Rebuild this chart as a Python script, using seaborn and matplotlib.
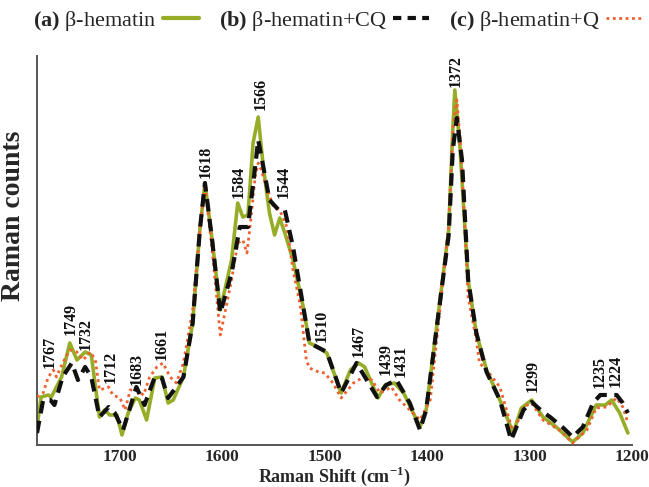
import matplotlib
matplotlib.use("Agg")
import matplotlib.pyplot as plt
from matplotlib.lines import Line2D
import seaborn as sns
import pandas as pd

# Raman spectra (arbitrary count units), wavenumbers in cm-1
shift_a = [1781, 1777, 1770, 1767, 1757, 1749, 1742, 1734, 1728, 1720, 1715, 1710, 1703,
           1698, 1692, 1685, 1681, 1674, 1666, 1659, 1653, 1648, 1638, 1629, 1622, 1617,
           1610, 1602, 1591, 1585, 1580, 1575, 1570, 1565, 1560, 1554, 1549, 1544, 1539,
           1531, 1521, 1515, 1507, 1498, 1484, 1475, 1467, 1461, 1448, 1441, 1432, 1423,
           1407, 1401, 1385, 1379, 1375, 1373, 1368, 1360, 1352, 1342, 1329, 1316, 1308,
           1298, 1287, 1274, 1258, 1248, 1235, 1226, 1220, 1212, 1204]
counts_a = [18, 48, 50, 48, 68, 102, 85, 93, 90, 28, 35, 30, 30,
            10, 32, 47, 45, 25, 67, 68, 42, 45, 68, 122, 215, 262,
            205, 135, 185, 242, 228, 230, 302, 328, 278, 232, 210, 227, 212,
            185, 138, 102, 98, 92, 52, 75, 82, 78, 47, 60, 62, 52,
            18, 35, 165, 215, 315, 355, 298, 165, 112, 75, 45, 12, 37,
            45, 28, 18, 3, 12, 40, 40, 45, 32, 12]

shift_b = [1781, 1775, 1768, 1764, 1756, 1747, 1741, 1734, 1728, 1720, 1711, 1705, 1697,
           1690, 1684, 1676, 1666, 1659, 1653, 1645, 1638, 1629, 1622, 1617, 1610, 1602,
           1591, 1583, 1575, 1568, 1565, 1560, 1554, 1545, 1539, 1531, 1521, 1515, 1498,
           1484, 1469, 1449, 1440, 1430, 1417, 1407, 1401, 1385, 1379, 1375, 1371, 1366,
           1360, 1352, 1342, 1329, 1318, 1306, 1298, 1287, 1280, 1267, 1258, 1248, 1238,
           1231, 1223, 1215, 1209, 1204]
counts_b = [12, 45, 45, 40, 68, 82, 65, 78, 68, 28, 38, 32, 15,
            38, 58, 40, 68, 67, 47, 58, 68, 122, 215, 262, 205, 132,
            172, 218, 218, 278, 305, 278, 245, 235, 235, 198, 138, 102, 93,
            52, 82, 48, 60, 65, 42, 15, 35, 163, 210, 295, 327, 285,
            165, 112, 73, 45, 5, 35, 43, 33, 28, 17, 8, 18, 42,
            50, 50, 50, 42, 32]

shift_c = [1781, 1775, 1770, 1765, 1762, 1756, 1749, 1742, 1736, 1729, 1724, 1720, 1711,
           1707, 1700, 1695, 1690, 1684, 1677, 1671, 1664, 1658, 1651, 1645, 1638, 1629,
           1622, 1617, 1610, 1602, 1591, 1585, 1580, 1576, 1573, 1568, 1565, 1562, 1557,
           1550, 1544, 1537, 1531, 1524, 1518, 1515, 1506, 1500, 1492, 1484, 1472, 1462,
           1454, 1446, 1435, 1427, 1414, 1407, 1397, 1385, 1379, 1375, 1371, 1367, 1360,
           1352, 1349, 1342, 1329, 1316, 1306, 1298, 1287, 1271, 1258, 1244, 1235, 1225,
           1215, 1209, 1204]
counts_c = [48, 52, 68, 75, 68, 82, 95, 93, 85, 93, 85, 55, 58,
            50, 47, 35, 55, 55, 50, 68, 78, 82, 68, 62, 82, 135,
            215, 260, 195, 110, 165, 202, 205, 192, 218, 268, 282, 275, 258,
            238, 235, 218, 175, 140, 85, 77, 73, 72, 62, 47, 62, 68,
            65, 52, 58, 45, 32, 25, 45, 160, 220, 315, 345, 295, 148,
            105, 82, 75, 58, 12, 38, 42, 25, 15, 2, 15, 37, 38,
            47, 38, 22]

series_names = ["β-hematin", "β-hematin+CQ", "β-hematin+Q"]
series_tags = ["(a)", "(b)", "(c)"]

# Band assignments marked on the spectra
band_labels = ["1767", "1749", "1732", "1712", "1683", "1661", "1618", "1584", "1566",
               "1544", "1510", "1467", "1439", "1431", "1372", "1299", "1235", "1224"]
band_heights = [77, 110, 95, 62, 60, 85, 267, 247, 335,
                247, 103, 88, 70, 68, 358, 53, 57, 58]
# horizontal nudges of the band labels, in cm-1
band_nudge = [-2, 1, -1, 3, -1, 2, 2, 0, 3, 4, 7, 0, -2, 5, 0, 2, 3, 8]

tick_values = [1700, 1600, 1500, 1400, 1300, 1200]

sns.set_style("white")
plt.rcParams["font.family"] = ["Liberation Serif", "DejaVu Serif"]
plt.rcParams["mathtext.fontset"] = "custom"
plt.rcParams["mathtext.rm"] = "Liberation Serif"
plt.rcParams["mathtext.bf"] = "Liberation Serif:bold"

fig = plt.figure(figsize=(6.49, 4.87), dpi=100)
ax = fig.add_axes([37 / 649, 42 / 487, 595 / 649, 389 / 487])

colors = ["#96ad28", "#111111", "#f0602e"]
frames = [
    pd.DataFrame({"shift": shift_a, "counts": counts_a}),
    pd.DataFrame({"shift": shift_b, "counts": counts_b}),
    pd.DataFrame({"shift": shift_c, "counts": counts_c}),
]

sns.lineplot(data=frames[0], x="shift", y="counts", sort=False, ax=ax,
             color=colors[0], lw=2.6, zorder=2)
sns.lineplot(data=frames[2], x="shift", y="counts", sort=False, ax=ax,
             color=colors[2], lw=2.0, zorder=3)
ax.lines[-1].set_dashes([1.0, 1.3])
sns.lineplot(data=frames[1], x="shift", y="counts", sort=False, ax=ax,
             color=colors[1], lw=3.0, zorder=4)
ax.lines[-1].set_dashes([3.0, 1.8])

ax.set_xlim(1781, 1200)
ax.set_ylim(0, 389)
ax.set_yticks([])
ax.set_xticks(tick_values)
ax.set_xticklabels([str(v) for v in tick_values], fontsize=12.5, fontweight="bold")
ax.tick_params(axis="x", direction="in", length=5, width=1, color="#444444", pad=3)
for side in ["top", "right"]:
    ax.spines[side].set_visible(False)
for side in ["left", "bottom"]:
    ax.spines[side].set_color("#555555")
    ax.spines[side].set_linewidth(1.4)

ax.set_xlabel(r"Raman Shift (cm$^{\mathbf{-1}}$)", fontsize=13, fontweight="bold", labelpad=0)
ax.set_ylabel("Raman counts", fontsize=20, fontweight="bold")
ax.yaxis.set_label_coords(-0.018, 0.59)

for lab, h, dx in zip(band_labels, band_heights, band_nudge):
    ax.text(float(lab) - dx, h, lab, rotation=90, ha="center", va="bottom",
            fontsize=11.5, fontweight="bold", color="#111111", zorder=5)

handles = [
    Line2D([], [], color=colors[0], lw=3.0),
    Line2D([], [], color=colors[1], lw=3.0, dashes=[2.0, 1.5]),
    Line2D([], [], color=colors[2], lw=2.0, dashes=[1.0, 1.3]),
]
labels = [rf"$\mathbf{{{t}}}$ {n}" for t, n in zip(series_tags, series_names)]
fig.legend(handles, labels, loc="center left", bbox_to_anchor=(0.03, 0.957),
           ncol=3, frameon=False, markerfirst=False, fontsize=16,
           handlelength=1.6, handletextpad=0.3, columnspacing=0.9, borderpad=0.1)

fig.savefig("out.png", dpi=100)
